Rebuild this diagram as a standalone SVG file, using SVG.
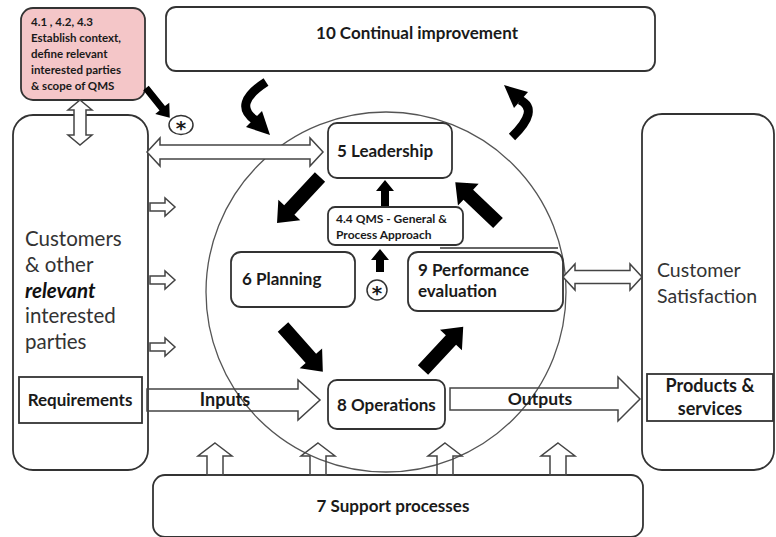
<svg xmlns="http://www.w3.org/2000/svg" width="776" height="537" viewBox="0 0 776 537">
<style>
.box{fill:#fff;stroke:#333;stroke-width:1.8}
.hol{fill:#fff;stroke:#444;stroke-width:1.5;stroke-linejoin:miter}
.holn{fill:none;stroke:#444;stroke-width:1.5}
.blk{fill:#000}
.t{font-family:Lato,"Open Sans","Liberation Sans",sans-serif;font-weight:bold;fill:#1a1a1a}
.r{font-family:Lato,"Open Sans","Liberation Sans",sans-serif;fill:#333}
.ast{font-family:"DejaVu Sans",sans-serif;font-weight:bold;fill:#1a1a1a;font-size:20px}
</style>
<rect width="776" height="537" fill="#fff"/>
<circle cx="386" cy="292" r="180" fill="none" stroke="#555" stroke-width="1.3"/>
<g id="continual">
  <rect class="box" x="166" y="7" width="489" height="64" rx="10"/>
  <text class="t" x="417" y="39" font-size="17" text-anchor="middle">10 Continual improvement</text>
</g>
<g id="context">
  <rect x="21" y="8" width="124" height="92" rx="12" fill="#f4c6c8" stroke="#333" stroke-width="1.8"/>
  <text class="t" font-size="11.5" x="31"><tspan x="31" y="26">4.1 , 4.2, 4.3</tspan><tspan x="31" y="42">Establish context,</tspan><tspan x="31" y="58">define relevant</tspan><tspan x="31" y="74">interested parties</tspan><tspan x="31" y="90">&amp; scope of QMS</tspan></text>
</g>
<g id="star1">
  <ellipse cx="181" cy="125" rx="12" ry="9.5" fill="#fff" stroke="#333" stroke-width="1.5"/>
  <text class="ast" x="181" y="135" text-anchor="middle">*</text>
</g>
<g id="customers">
  <rect class="box" x="13" y="115" width="135" height="355" rx="20"/>
  <text class="r" font-size="20.5"><tspan x="25" y="246">Customers</tspan><tspan x="25" y="272">&amp; other</tspan><tspan x="25" y="298" font-weight="bold" font-style="italic" fill="#111">relevant</tspan><tspan x="25" y="323">interested</tspan><tspan x="25" y="349">parties</tspan></text>
</g>
<g id="requirements">
  <rect class="box" x="19" y="377" width="123" height="46"/>
  <text class="t" x="80" y="406" font-size="17" text-anchor="middle">Requirements</text>
</g>
<g id="satisfaction">
  <rect class="box" x="642" y="114" width="132" height="356" rx="20"/>
  <text class="r" font-size="19.5"><tspan x="657" y="277">Customer</tspan><tspan x="657" y="303">Satisfaction</tspan></text>
</g>
<g id="products">
  <rect class="box" x="647" y="374" width="126" height="47"/>
  <text class="t" font-size="18" text-anchor="middle"><tspan x="710" y="392">Products &amp;</tspan><tspan x="710" y="415">services</tspan></text>
</g>
<g id="leadership">
  <rect class="box" x="328" y="123" width="124" height="55" rx="9"/>
  <text class="t" x="337" y="157" font-size="17">5 Leadership</text>
</g>
<g id="qms">
  <rect class="box" x="328" y="207" width="135" height="38" rx="7"/>
  <text class="t" font-size="12"><tspan x="336" y="223">4.4 QMS - General &amp;</tspan><tspan x="336" y="239">Process  Approach</tspan></text>
</g>
<g id="planning">
  <rect class="box" x="231" y="252" width="124" height="55" rx="10"/>
  <text class="t" x="242" y="285" font-size="17">6 Planning</text>
</g>
<g id="star2">
  <circle cx="377" cy="290" r="10" fill="#fff" stroke="#333" stroke-width="1.5"/>
  <text class="ast" x="377" y="300" text-anchor="middle">*</text>
</g>
<g id="performance">
  <line x1="440" y1="248" x2="558" y2="248" stroke="#333" stroke-width="1.5"/>
  <rect class="box" x="408" y="252" width="155" height="59" rx="10"/>
  <text class="t" font-size="17"><tspan x="418" y="276">9 Performance</tspan><tspan x="418" y="297">evaluation</tspan></text>
</g>
<g id="operations">
  <rect class="box" x="328" y="380" width="117" height="49" rx="9"/>
  <text class="t" x="337" y="411" font-size="17">8 Operations</text>
</g>
<g id="support">
  <rect class="box" x="153" y="475" width="490" height="62" rx="12"/>
  <text class="t" x="393" y="512" font-size="17" text-anchor="middle">7 Support processes</text>
</g>
<g id="connectors">
  <path class="hol" d="M80,100 L92,110 L86,110 L86,135 L92,135 L80,145 L68,135 L74,135 L74,110 L68,110 Z"/>
  <path class="hol" d="M147,152 L160,138 L160,145 L310,145 L310,138 L323,152 L310,166 L310,159 L160,159 L160,166 Z"/>
  <path class="hol" d="M563,277 L575,264 L575,270.5 L630,270.5 L630,264 L642,277 L630,290 L630,283.5 L575,283.5 L575,290 Z"/>
  <path class="hol" d="M150,203 L165,203 L165,198 L175,207 L165,216 L165,211 L150,211 Z"/>
  <path class="hol" d="M150,276 L165,276 L165,271 L175,280 L165,289 L165,284 L150,284 Z"/>
  <path class="hol" d="M150,343 L165,343 L165,338 L175,347 L165,356 L165,351 L150,351 Z"/>
  <path class="holn" d="M147,389 L298,389 L298,380 L320,400 L298,420 L298,411 L147,411 Z"/>
  <path class="holn" d="M450,388 L618,388 L618,377 L640,399 L618,421 L618,410 L450,410 Z"/>
  <path class="holn" d="M215,443 L232,456 L223,456 L223,475 L207,475 L207,456 L198,456 Z"/>
  <path class="holn" d="M318,443 L335,456 L326,456 L326,475 L310,475 L310,456 L301,456 Z"/>
  <path class="holn" d="M445,443 L462,456 L453,456 L453,475 L437,475 L437,456 L428,456 Z"/>
  <path class="holn" d="M558,443 L575,456 L566,456 L566,475 L550,475 L550,456 L541,456 Z"/>
  <path class="blk" transform="translate(320,177) rotate(133)" d="M0,-7 L45,-7 L45,-15 L63,0 L45,15 L45,7 L0,7 Z"/>
  <path class="blk" transform="translate(498,223) rotate(223.6)" d="M0,-7 L41,-7 L41,-15 L59,0 L41,15 L41,7 L0,7 Z"/>
  <path class="blk" transform="translate(283,327) rotate(48.4)" d="M0,-7 L42,-7 L42,-15 L60,0 L42,15 L42,7 L0,7 Z"/>
  <path class="blk" transform="translate(423,370) rotate(-47)" d="M0,-7 L41,-7 L41,-15 L59,0 L41,15 L41,7 L0,7 Z"/>
  <path class="blk" transform="translate(146,88) rotate(51.3)" d="M0,-3.5 L26,-3.5 L26,-9 L38,0 L26,9 L26,3.5 L0,3.5 Z"/>
  <path class="blk" transform="translate(385,206) rotate(-90)" d="M0,-4 L15,-4 L15,-9 L26,0 L15,9 L15,4 L0,4 Z"/>
  <path class="blk" transform="translate(380,272) rotate(-90)" d="M0,-4 L12,-4 L12,-9 L23,0 L12,9 L12,4 L0,4 Z"/>
  <path d="M266,82 Q232,104 255,120" fill="none" stroke="#000" stroke-width="9"/>
  <path class="blk" d="M270,135 L246,127 L262,111 Z"/>
  <path d="M512,137 Q540,110 520,100" fill="none" stroke="#000" stroke-width="9"/>
  <path class="blk" d="M504,85 L528,92 L514,108 Z"/>
</g>
<g id="labels">
  <text class="t" x="225" y="406" font-size="18" text-anchor="middle">Inputs</text>
  <text class="t" x="540" y="405" font-size="17.5" text-anchor="middle">Outputs</text>
</g>
</svg>
